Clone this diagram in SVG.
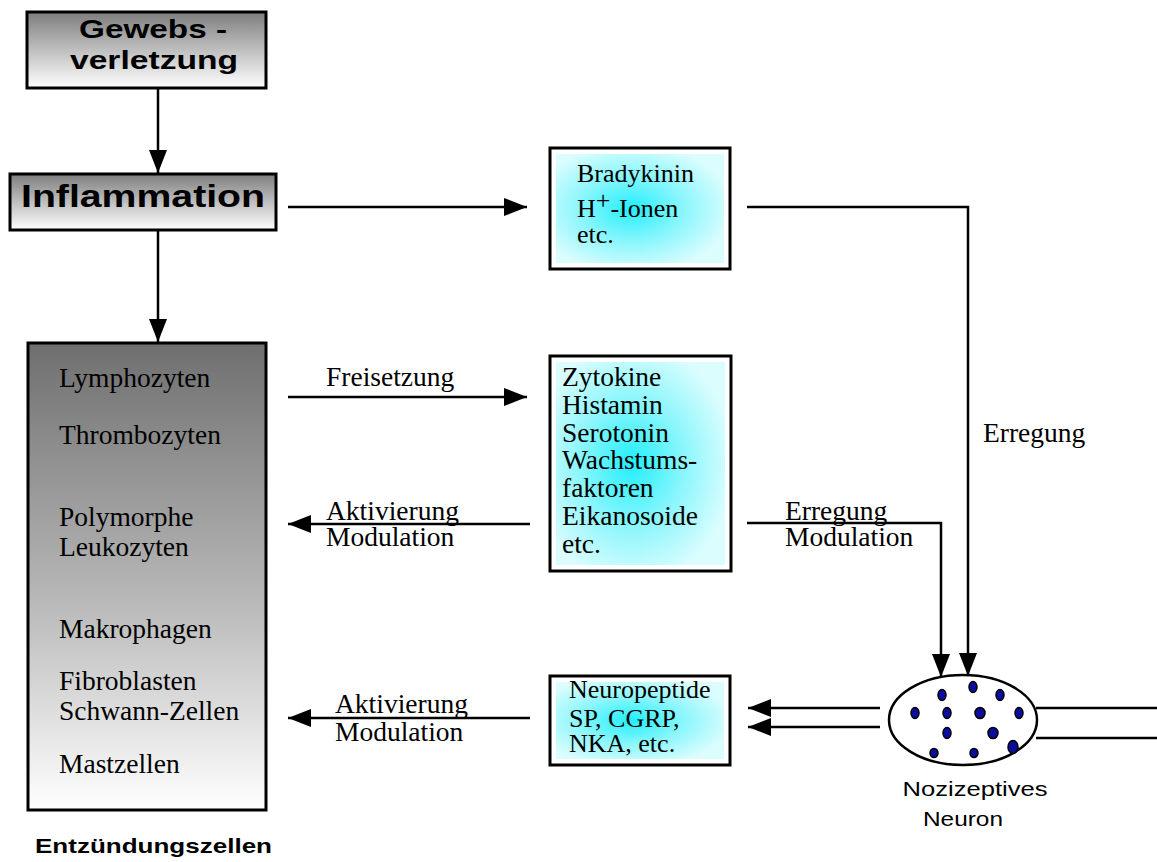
<svg xmlns="http://www.w3.org/2000/svg" width="1157" height="862" viewBox="0 0 1157 862">
<defs>
<linearGradient id="gGray" x1="0" y1="0" x2="0" y2="1">
<stop offset="0" stop-color="#7e7e7e"/>
<stop offset="1" stop-color="#ffffff"/>
</linearGradient>
<linearGradient id="gCells" x1="0" y1="0" x2="0" y2="1">
<stop offset="0" stop-color="#6f6f6f"/>
<stop offset="0.55" stop-color="#b8b8b8"/>
<stop offset="1" stop-color="#ffffff"/>
</linearGradient>
<radialGradient id="gCyan" cx="0.45" cy="0.5" r="0.6">
<stop offset="0" stop-color="#22eefb"/>
<stop offset="0.5" stop-color="#88f6fc"/>
<stop offset="1" stop-color="#dcfdfe"/>
</radialGradient>
<marker id="ah" markerUnits="userSpaceOnUse" markerWidth="24" markerHeight="20" refX="23" refY="9" orient="auto">
<path d="M0,0 L23,9 L0,18 Z" fill="#000"/>
</marker>
</defs>
<style>
.box{stroke:#000;stroke-width:3}
.ln{stroke:#000;stroke-width:2.5;fill:none}
.tm{font-family:"Liberation Serif","Times New Roman",serif;font-size:27.5px;fill:#000}
.sm{font-size:26px}
.ar{font-family:"Liberation Sans",Arial,sans-serif;fill:#000}
.b{font-weight:bold}
.dot{fill:#0c0c9c;stroke:#000;stroke-width:1.5}
</style>

<g id="gewebsverletzung">
<rect class="box" x="27" y="12" width="239" height="76" fill="url(#gGray)"/>
<text class="ar b" x="153" y="38" font-size="25" text-anchor="middle" textLength="148" lengthAdjust="spacingAndGlyphs">Gewebs -</text>
<text class="ar b" x="154" y="69" font-size="26" text-anchor="middle" textLength="168" lengthAdjust="spacingAndGlyphs">verletzung</text>
</g>

<g id="inflammation">
<rect class="box" x="10" y="174" width="266" height="56" fill="url(#gGray)"/>
<text class="ar b" x="143" y="207" font-size="31" text-anchor="middle" textLength="244" lengthAdjust="spacingAndGlyphs">Inflammation</text>
</g>

<g id="entzuendungszellen">
<rect class="box" x="28" y="343" width="238" height="467" fill="url(#gCells)"/>
<text class="tm" x="59" y="387">Lymphozyten</text>
<text class="tm" x="59" y="444">Thrombozyten</text>
<text class="tm" x="59" y="526">Polymorphe</text>
<text class="tm" x="59" y="556">Leukozyten</text>
<text class="tm" x="59" y="638">Makrophagen</text>
<text class="tm" x="59" y="690">Fibroblasten</text>
<text class="tm" x="59" y="720">Schwann-Zellen</text>
<text class="tm" x="59" y="773">Mastzellen</text>
<text class="ar b" x="35" y="853" font-size="21" textLength="237" lengthAdjust="spacingAndGlyphs">Entzündungszellen</text>
</g>

<g id="bradykinin">
<rect class="box" x="550" y="148" width="180" height="121" fill="#fff"/>
<rect x="556" y="154" width="168" height="109" fill="url(#gCyan)"/>
<text class="tm sm" x="577" y="182">Bradykinin</text>
<text class="tm sm" x="577" y="217">H<tspan dy="-8">+</tspan><tspan dy="8">-Ionen</tspan></text>
<text class="tm sm" x="577" y="243">etc.</text>
</g>

<g id="zytokine">
<rect class="box" x="550" y="356" width="181" height="215" fill="#fff"/>
<rect x="556" y="362" width="169" height="203" fill="url(#gCyan)"/>
<text class="tm" x="562" y="386">Zytokine</text>
<text class="tm" x="562" y="414">Histamin</text>
<text class="tm" x="562" y="442">Serotonin</text>
<text class="tm" x="562" y="469">Wachstums-</text>
<text class="tm" x="562" y="497">faktoren</text>
<text class="tm" x="562" y="525">Eikanosoide</text>
<text class="tm" x="562" y="553">etc.</text>
</g>

<g id="neuropeptide">
<rect class="box" x="550" y="676" width="180" height="89" fill="#fff"/>
<rect x="556" y="682" width="168" height="77" fill="url(#gCyan)"/>
<text class="tm sm" x="569" y="698">Neuropeptide</text>
<text class="tm sm" x="569" y="727">SP, CGRP,</text>
<text class="tm sm" x="569" y="752">NKA, etc.</text>
</g>

<g id="neuron">
<line class="ln" x1="1036" y1="708" x2="1157" y2="708"/>
<line class="ln" x1="1036" y1="738" x2="1157" y2="738"/>
<ellipse cx="963" cy="720" rx="74" ry="45" fill="#fff" stroke="#000" stroke-width="2.5"/>
<ellipse class="dot" cx="942" cy="695" rx="4" ry="5.5"/>
<ellipse class="dot" cx="973" cy="687" rx="4" ry="5.5"/>
<ellipse class="dot" cx="1000" cy="695" rx="4" ry="5.5"/>
<ellipse class="dot" cx="915" cy="713" rx="4" ry="5.5"/>
<ellipse class="dot" cx="947" cy="713" rx="4" ry="5.5"/>
<ellipse class="dot" cx="980" cy="713" rx="5" ry="5.5"/>
<ellipse class="dot" cx="1019" cy="713" rx="4" ry="5.5"/>
<ellipse class="dot" cx="947" cy="733" rx="4" ry="5.5"/>
<ellipse class="dot" cx="993" cy="733" rx="5" ry="5.5"/>
<ellipse class="dot" cx="934" cy="753" rx="4" ry="4.5"/>
<ellipse class="dot" cx="974" cy="753" rx="4" ry="4.5"/>
<ellipse class="dot" cx="1013" cy="747" rx="5" ry="6.5"/>
<text class="ar" x="975" y="796" font-size="21" text-anchor="middle" textLength="145" lengthAdjust="spacingAndGlyphs">Nozizeptives</text>
<text class="ar" x="963" y="826" font-size="21" text-anchor="middle" textLength="80" lengthAdjust="spacingAndGlyphs">Neuron</text>
</g>

<g id="connectors">
<line class="ln" x1="158" y1="88" x2="158" y2="173" marker-end="url(#ah)"/>
<line class="ln" x1="158" y1="230" x2="158" y2="342" marker-end="url(#ah)"/>
<line class="ln" x1="288" y1="207" x2="527" y2="207" marker-end="url(#ah)"/>
<polyline class="ln" points="747,207 968,207 968,676" marker-end="url(#ah)"/>
<line class="ln" x1="288" y1="397" x2="527" y2="397" marker-end="url(#ah)"/>
<line class="ln" x1="530" y1="524" x2="288" y2="524" marker-end="url(#ah)"/>
<polyline class="ln" points="747,523 941,523 941,677" marker-end="url(#ah)"/>
<line class="ln" x1="530" y1="718" x2="288" y2="718" marker-end="url(#ah)"/>
<line class="ln" x1="880" y1="708" x2="748" y2="708" marker-end="url(#ah)"/>
<line class="ln" x1="880" y1="727" x2="748" y2="727" marker-end="url(#ah)"/>
<text class="tm" x="326" y="386">Freisetzung</text>
<text class="tm" x="326" y="520">Aktivierung</text>
<text class="tm" x="326" y="546">Modulation</text>
<text class="tm" x="785" y="520">Erregung</text>
<text class="tm" x="785" y="546">Modulation</text>
<text class="tm" x="335" y="713">Aktivierung</text>
<text class="tm" x="335" y="741">Modulation</text>
<text class="tm" x="983" y="442">Erregung</text>
</g>
</svg>
